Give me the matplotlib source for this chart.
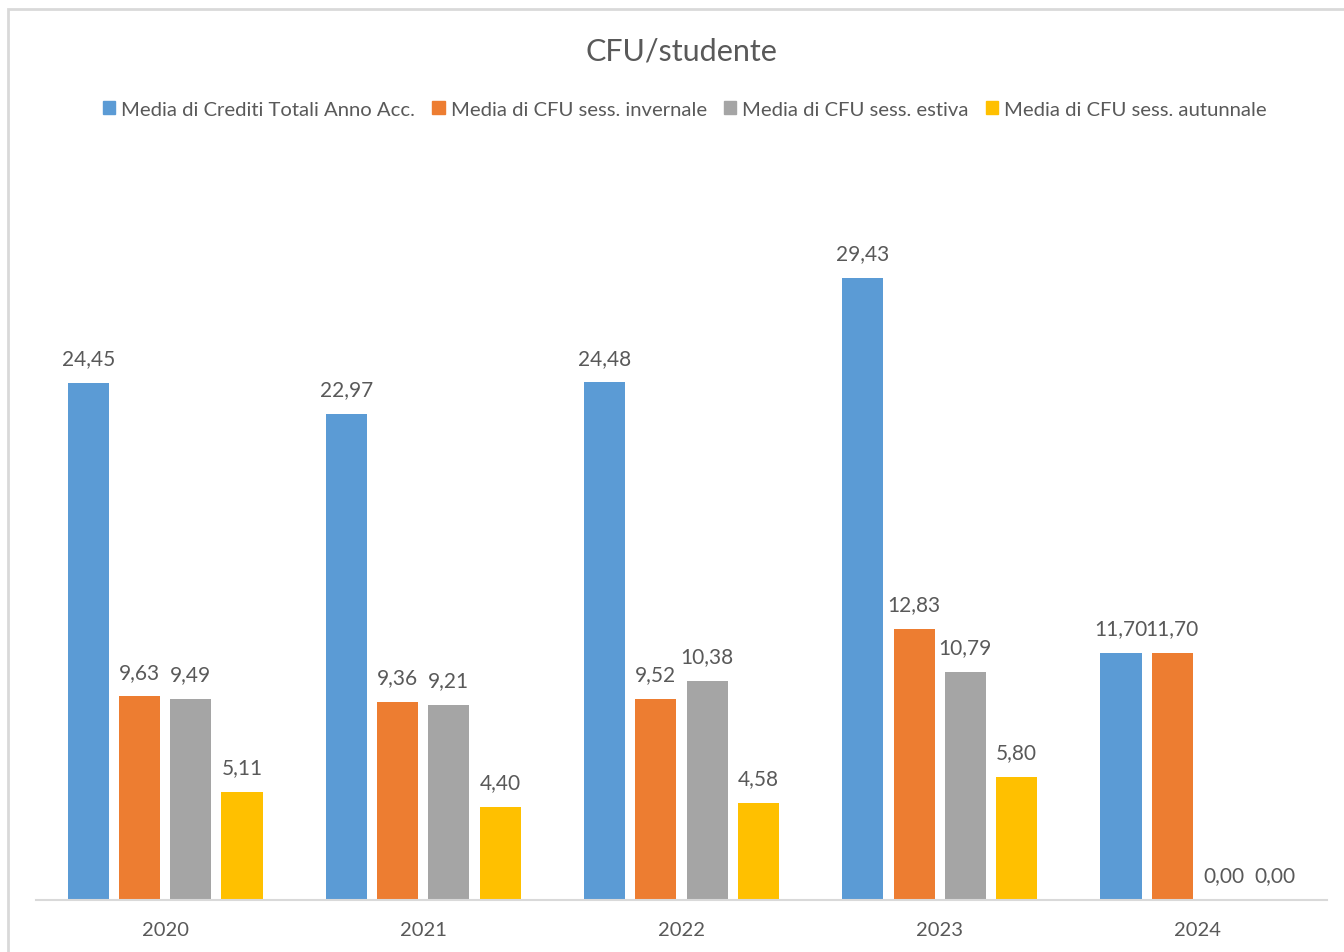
import numpy as np
import matplotlib.pyplot as plt
from matplotlib.patches import Rectangle

plt.rcParams['font.family'] = ['Lato', 'DejaVu Sans']

anni = ['2020', '2021', '2022', '2023', '2024']
serie = ['Media di Crediti Totali Anno Acc.', 'Media di CFU sess. invernale',
         'Media di CFU sess. estiva', 'Media di CFU sess. autunnale']
crediti_totali = [24.45, 22.97, 24.48, 29.43, 11.70]
cfu_invernale = [9.63, 9.36, 9.52, 12.83, 11.70]
cfu_estiva = [9.49, 9.21, 10.38, 10.79, 0.00]
cfu_autunnale = [5.11, 4.40, 4.58, 5.80, 0.00]
colori = ['#5B9BD5', '#ED7D31', '#A5A5A5', '#FFC000']

grigio_testo = '#595959'

fig = plt.figure(figsize=(13.44, 9.53), dpi=100)
# bordo del grafico stile Excel
fig.patches.append(Rectangle((8 / 1344, -0.01), 1.02, 1 - 8 / 953 + 0.01 - 1.5 / 953,
                             transform=fig.transFigure, fill=False,
                             edgecolor='#D9D9D9', linewidth=2))

ax = fig.add_axes([36 / 1344, 52 / 953, 1291 / 1344, 740 / 953])

x = np.arange(len(anni))
passo = 0.1985
larghezza = 0.159
valori = [crediti_totali, cfu_invernale, cfu_estiva, cfu_autunnale]
for i, (v, c, nome) in enumerate(zip(valori, colori, serie)):
    pos = x + (i - 1.5) * passo
    bars = ax.bar(pos, v, width=larghezza, color=c, label=nome)
    for xp, val in zip(pos, v):
        ax.text(xp, val + 0.7, '{:.2f}'.format(val).replace('.', ','),
                ha='center', va='bottom', fontsize=15, color=grigio_testo)

ax.set_xlim(-0.5, len(anni) - 0.5)
ax.set_ylim(0, 35)
ax.set_xticks(x)
ax.set_xticklabels(anni, fontsize=14.5, color=grigio_testo)
ax.tick_params(axis='x', length=0, pad=15)
ax.set_yticks([])
for s in ['top', 'right', 'left']:
    ax.spines[s].set_visible(False)
ax.spines['bottom'].set_color('#D9D9D9')
ax.spines['bottom'].set_linewidth(1.5)

fig.text(681 / 1344, 1 - 52 / 953, 'CFU/studente', ha='center', va='center',
         fontsize=22, color=grigio_testo)

handles = [Rectangle((0, 0), 1, 1, color=c) for c in colori]
fig.legend(handles, serie, loc='center', bbox_to_anchor=(685 / 1344, 1 - 110 / 953),
           ncol=4, frameon=False, fontsize=14.6, labelcolor=grigio_testo,
           handlelength=0.6, handleheight=0.6, handletextpad=0.3,
           columnspacing=0.85)

fig.savefig('out.png', dpi=100)
